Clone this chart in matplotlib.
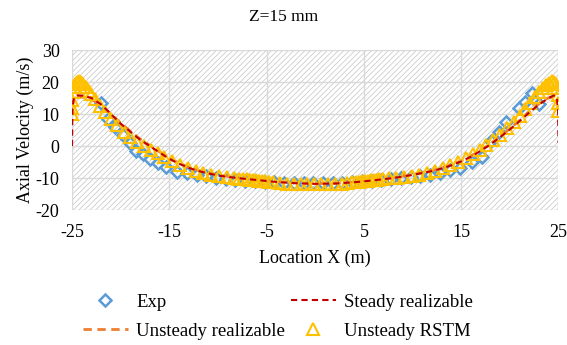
import numpy as np
import matplotlib.pyplot as plt
from matplotlib.patches import Rectangle

plt.rcParams['font.family'] = ['Liberation Serif', 'DejaVu Serif']
plt.rcParams['axes.unicode_minus'] = False
plt.rcParams['hatch.linewidth'] = 0.5
plt.rcParams['hatch.color'] = '#c4c4c4'

# experimental data
exp_x = [-22, -21.3, -20.6, -19.8, -19, -18.4, -17.7, -17, -16.2, -15.3, -14.2,
         -13.2, -12.2, -11.2, -10.2, -9.2, -8.2, -7.2, -6.2, -5.2, -4.2, -3.2,
         -2.2, -1.2, -0.2, 0.8, 1.8, 2.8, 3.8, 4.8, 5.8, 6.8, 7.8, 8.8, 9.8,
         10.8, 11.8, 12.8, 13.8, 14.9, 16.1, 17.1, 18.1, 18.9, 19.6, 20.9,
         21.6, 22.3, 23.0]
exp_v = [13.5, 8.5, 6, 3.5, 1, -1.5, -2.5, -4, -5.3, -6.5, -8, -8.5, -9, -9.5,
         -10, -10.3, -10.6, -11, -11, -11.2, -11.3, -11.5, -11.6, -11.6, -11.6,
         -11.6, -11.5, -11.4, -11.3, -11, -10.8, -10.5, -10.2, -10, -9.7, -9.3,
         -9, -8.3, -7.5, -6.9, -4.9, -3.3, 1.5, 4.5, 7.6, 12, 13.8, 16.5, 13]

# steady realizable
sr_x = [-25, -24.95, -24.8, -24.5, -24, -23, -22, -21, -20, -19, -18, -17, -16,
        -15, -14, -13, -12, -10, -8, -6, -4, -2, 0, 2, 4, 6, 8, 10, 12, 13, 14,
        15, 16, 17, 18, 19, 20, 21, 22, 23, 24, 24.5, 24.8, 24.95, 25]
sr_v = [0, 12, 15, 15.8, 15.8, 15, 13, 10, 7, 4.5, 2, 0, -2, -4, -5.5, -6.8,
        -7.8, -9.2, -10, -10.6, -11.2, -11.6, -11.8, -11.7, -11.3, -10.7, -10,
        -9, -7.8, -7, -6, -4.8, -3.3, -1.5, 0.5, 2.8, 5.2, 7.8, 10.5, 13, 15,
        15.8, 15.5, 12, 1]

# unsteady realizable
ur_x = [-25, -24.9, -24.6, -24.2, -23.5, -23, -22, -21, -20, -19, -18, -17,
        -16, -15, -14, -13, -12, -10, -8, -6, -4, -2, 0, 2, 4, 6, 8, 10, 12,
        13, 14, 15, 16, 17, 18, 19, 20, 21, 22, 23, 23.5, 24.2, 24.6, 24.9, 25]
ur_v = [12, 14, 15, 15.3, 15.2, 14.6, 12.8, 10, 7.2, 4.6, 2.2, 0.2, -1.8,
        -3.8, -5.3, -6.6, -7.6, -9, -9.9, -10.5, -11.1, -11.5, -11.7, -11.6,
        -11.2, -10.6, -9.9, -8.9, -7.6, -6.8, -5.8, -4.6, -3.1, -1.3, 0.7, 3,
        5.4, 8, 10.8, 13.3, 14.4, 15.3, 15.2, 14, 12]

# unsteady RSTM
rs_x = [-25, -25, -24.95, -24.9, -24.8, -24.65, -24.5, -24.3, -24.1, -23.9,
        -23.6, -23.3, -23.0, -22.6, -22.1, -21.6, -21.0, -20.4, -19.7, -19.0,
        -18.3, -17.6, -16.9, -16.2, -15.5, -14.7, -13.9, -13.1, -12.3, -11.5,
        -10.7, -9.9, -9.1, -8.4, -7.8, -7.4, -7.0, -6.7, -6.4, -6.1, -5.8,
        -5.5, -5.2, -4.8, -4.3, -3.6, -2.9, -2.2, -1.5, -0.8, -0.1, 0.6, 1.3,
        2.0, 2.7, 3.3, 3.8, 4.2, 4.5, 4.8, 5.1, 5.4, 5.7, 6.0, 6.3, 6.6, 7.0,
        7.6, 8.3, 9.1, 9.9, 10.7, 11.5, 12.3, 13.1, 13.9, 14.7, 15.5, 16.2,
        16.9, 17.6, 18.3, 19.0, 19.7, 20.4, 21.0, 21.6, 22.1, 22.6, 23.0, 23.4,
        23.7, 24.0, 24.3, 24.5, 24.7, 24.85, 24.95, 25, 25]
rs_v = [10, 12, 14.5, 17, 18.5, 19.5, 20, 20.2, 20, 19.5, 18.5, 17.3, 16.2,
        14.8, 12.5, 10.5, 8.5, 6.5, 4.5, 2.8, 1.2, 0, -1.2, -2.3, -3.5, -4.8,
        -6, -7, -7.8, -8.4, -8.9, -9.3, -9.7, -10, -10.2, -10.3, -10.4, -10.5,
        -10.6, -10.7, -10.8, -10.9, -11, -11.1, -11.3, -11.5, -11.7, -11.8,
        -11.9, -12, -12, -12, -11.9, -11.8, -11.7, -11.5, -11.3, -11.2, -11.1,
        -11, -10.9, -10.8, -10.7, -10.6, -10.5, -10.4, -10.3, -10.1, -9.9,
        -9.6, -9.3, -8.9, -8.4, -7.8, -7, -6, -5, -3.8, -2.5, -1.2, 0.2, 1.8,
        3.5, 5.5, 7.5, 9.5, 11.5, 13.5, 15.3, 16.8, 18, 19, 19.7, 20.2, 20,
        19.5, 18, 16, 13.5, 11]

xticks = [-25, -15, -5, 5, 15, 25]
yticks = [-20, -10, 0, 10, 20, 30]

fig = plt.figure(figsize=(5.67, 3.45), dpi=100)
ax = fig.add_axes([0.127, 0.391, 0.858, 0.464])

# hatched plot background
ax.add_patch(Rectangle((0, 0), 1, 1, transform=ax.transAxes, facecolor='white',
                       hatch='//////', linewidth=0, zorder=0))

ax.plot(exp_x, exp_v, linestyle='none', marker='D', markersize=6,
        markerfacecolor='none', markeredgecolor='#5B9BD5', markeredgewidth=1.8,
        label='Exp', zorder=3)
ax.plot(ur_x, ur_v, linestyle='--', color='#ED7D31', linewidth=2,
        dashes=(3, 2), label='Unsteady realizable', zorder=4)
ax.plot(rs_x, rs_v, linestyle='none', marker='^', markersize=8,
        markerfacecolor='none', markeredgecolor='#FFC000', markeredgewidth=1.5,
        label='Unsteady RSTM', zorder=5)
ax.plot(sr_x, sr_v, linestyle='--', color='#C00000', linewidth=1.5,
        dashes=(3, 2), label='Steady realizable', zorder=6)

ax.set_xlim(-25, 25)
ax.set_ylim(-20, 30)
ax.set_xticks(xticks)
ax.set_yticks(yticks)
ax.grid(True, color='#d9d9d9', linewidth=1)
ax.set_axisbelow(True)
for s in ax.spines.values():
    s.set_visible(False)
ax.tick_params(length=0, labelsize=13, pad=10)
ax.tick_params(axis='y', pad=9)

fig.text(0.5, 0.95, 'Z=15 mm', fontsize=12.5, ha='center', va='center')
ax.set_xlabel('Location X (m)', fontsize=13, labelpad=6)
ax.set_ylabel('Axial Velocity (m/s)', fontsize=13, labelpad=1)

h, l = ax.get_legend_handles_labels()
order = [0, 1, 3, 2]
fig.legend([h[i] for i in order], [l[i] for i in order], ncol=2,
           loc='center', bbox_to_anchor=(0.49, 0.082), frameon=False,
           fontsize=13.5, handlelength=2.4, columnspacing=0.3,
           handletextpad=0.45, labelspacing=0.65)

plt.savefig('out.png', dpi=100)
